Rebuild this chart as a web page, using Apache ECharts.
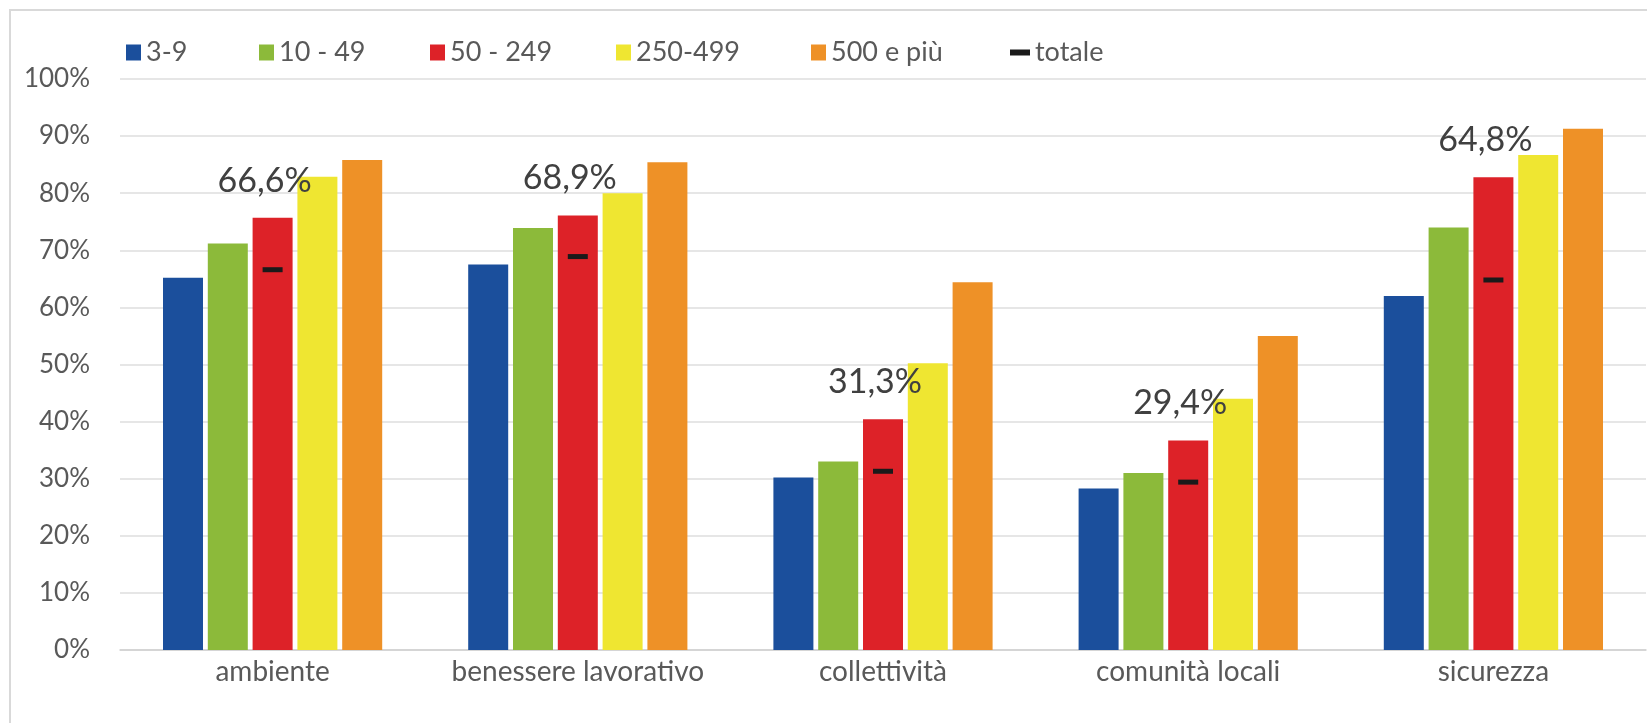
<!DOCTYPE html>
<html>
<head>
<meta charset="utf-8">
<script src="https://cdn.jsdelivr.net/npm/echarts@6/dist/echarts.min.js"></script>
<style>
html,body{margin:0;padding:0;background:#fff;}
#c{width:1647px;height:723px;}
</style>
</head>
<body>
<div id="c"></div>
<script>
// ---- data ----
var categories = ['ambiente', 'benessere lavorativo', 'collettività', 'comunità locali', 'sicurezza'];
var seriesNames = ['3-9', '10 - 49', '50 - 249', '250-499', '500 e più'];
var v3_9     = [65.2, 67.5, 30.2, 28.3, 62.0];
var v10_49   = [71.2, 73.9, 33.0, 31.0, 74.0];
var v50_249  = [75.7, 76.1, 40.4, 36.7, 82.8];
var v250_499 = [82.9, 80.0, 50.2, 44.0, 86.7];
var v500     = [85.8, 85.4, 64.4, 55.0, 91.3];
var totale   = [66.6, 68.9, 31.3, 29.4, 64.8];
var totaleName = 'totale';

// ---- styles ----
var colors = ['#1b4f9c', '#8cba3a', '#dd2228', '#efe631', '#ee9127'];
var totColor = '#1a1a1a';
var legendLeft = [121, 254, 425, 611, 806, 1005];
var FONT = 'Lato';

var values = [v3_9, v10_49, v50_249, v250_499, v500];

var series = values.map(function (arr, i) {
  var s = {
    name: seriesNames[i],
    type: 'bar',
    data: arr,
    barWidth: 40,
    barGap: '12%',
    itemStyle: { color: colors[i] },
    emphasis: { disabled: true }
  };
  if (i === 2) {
    s.label = {
      show: true,
      position: 'top',
      distance: 20,
      offset: [-8, 0],
      fontFamily: FONT,
      fontSize: 34,
      color: '#404040',
      formatter: function (p) {
        return totale[p.dataIndex].toFixed(1).replace('.', ',') + '%';
      }
    };
  }
  return s;
});
series.push({
  name: totaleName,
  type: 'line',
  data: totale,
  symbol: 'rect',
  symbolSize: [20, 5],
  showSymbol: true,
  itemStyle: { color: totColor },
  lineStyle: { opacity: 0 },
  z: 5,
  emphasis: { disabled: true }
});

var legends = seriesNames.concat([totaleName]).map(function (n, i) {
  var isTot = (n === totaleName);
  return {
    data: [{ name: n, icon: 'rect', itemStyle: { color: isTot ? totColor : colors[i] } }],
    left: legendLeft[i],
    top: 34,
    itemWidth: isTot ? 20 : 15,
    itemHeight: isTot ? 6 : 16,
    itemGap: 0,
    selectedMode: false,
    textStyle: { fontFamily: FONT, fontSize: 27, color: '#595959' }
  };
});

var chart = echarts.init(document.getElementById('c'), null, { renderer: 'canvas' });
chart.setOption({
  backgroundColor: '#ffffff',
  animation: false,
  textStyle: { fontFamily: FONT },
  graphic: [{
    type: 'rect',
    shape: { x: 10, y: 10, width: 1700, height: 800 },
    style: { fill: 'none', stroke: '#d9d9d9', lineWidth: 2 },
    silent: true,
    z: -1
  }],
  legend: legends,
  grid: { left: 120, right: 1, top: 79, bottom: 73, containLabel: false },
  xAxis: {
    type: 'category',
    data: categories,
    axisTick: { show: false },
    axisLine: { lineStyle: { color: '#d0d0d0', width: 1.5 } },
    axisLabel: { interval: 0, fontFamily: FONT, fontSize: 28, color: '#595959', margin: 8 }
  },
  yAxis: {
    type: 'value',
    min: 0,
    max: 100,
    interval: 10,
    axisLine: { show: false },
    axisTick: { show: false },
    splitLine: { lineStyle: { color: '#dedede', width: 1.5 } },
    axisLabel: { fontFamily: FONT, fontSize: 26, color: '#595959', margin: 30, formatter: '{value}%' }
  },
  series: series
});
</script>
</body>
</html>
